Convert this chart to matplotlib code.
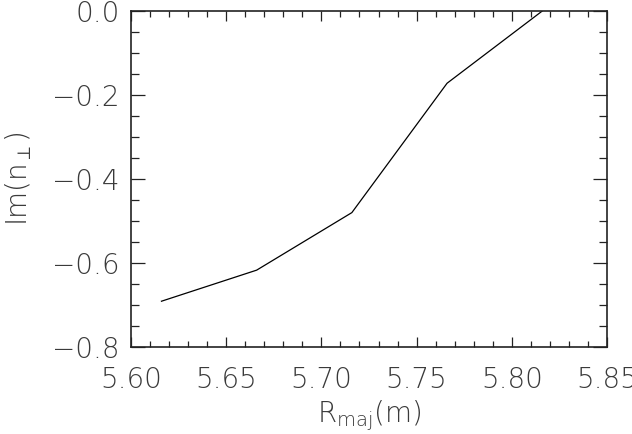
import matplotlib
matplotlib.use('Agg')
import matplotlib.pyplot as plt
from matplotlib.ticker import MultipleLocator, FuncFormatter

# values
r_maj = [5.616, 5.666, 5.716, 5.766, 5.816]
im_nperp = [-0.691, -0.617, -0.480, -0.172, 0.0]

plt.rcParams['font.family'] = ['DejaVu Sans']
plt.rcParams['font.weight'] = 'light'
plt.rcParams['mathtext.default'] = 'regular'
plt.rcParams['mathtext.fontset'] = 'custom'
plt.rcParams['mathtext.rm'] = 'DejaVu Sans:light'
plt.rcParams['mathtext.it'] = 'DejaVu Sans:light'

fig = plt.figure(figsize=(6.32, 4.34), dpi=100)
ax = fig.add_axes([131 / 632, 87 / 434, 476 / 632, 336 / 434])

ax.plot(r_maj, im_nperp, color='black', linewidth=0.9)

ax.set_xlim(5.60, 5.85)
ax.set_ylim(-0.8, 0.0)
ax.xaxis.set_major_locator(MultipleLocator(0.05))
ax.xaxis.set_minor_locator(MultipleLocator(0.01))
ax.yaxis.set_major_locator(MultipleLocator(0.2))
ax.yaxis.set_minor_locator(MultipleLocator(0.05))
ax.xaxis.set_major_formatter(FuncFormatter(lambda v, p: '%.2f' % v))
ax.yaxis.set_major_formatter(FuncFormatter(lambda v, p: ('%.1f' % v).replace('-', '\u2212')))

ax.tick_params(which='both', direction='in', top=True, right=True,
               labelsize=20, colors='#222222', labelcolor='#3a3a3a', width=0.9)
ax.tick_params(axis='x', which='major', length=7, pad=14)
ax.tick_params(axis='x', which='minor', length=4)
ax.tick_params(axis='y', which='major', length=10, pad=8)
ax.tick_params(axis='y', which='minor', length=6)
for s in ax.spines.values():
    s.set_linewidth(1.2)
    s.set_color('#222222')

ax.set_xlabel(r'R$_{maj}$(m)', fontsize=20, color='#3a3a3a', labelpad=3, fontweight='light')
ax.set_ylabel(r'Im(n$_{\perp}$)', fontsize=20, color='#3a3a3a', labelpad=13, fontweight='light')

fig.savefig('out.png', dpi=100)
